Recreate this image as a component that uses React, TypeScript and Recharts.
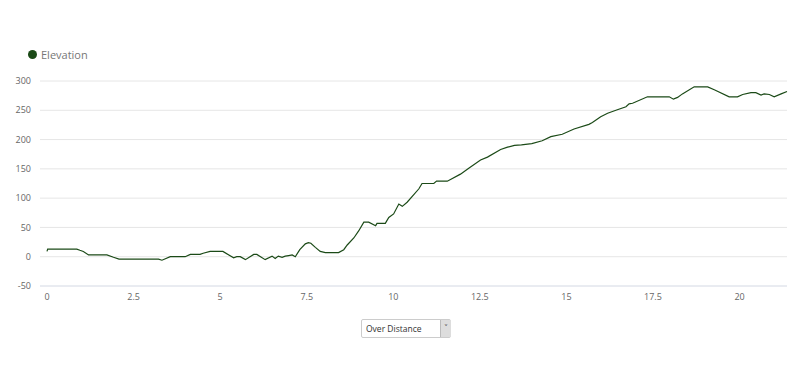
import { LineChart, Line, XAxis, YAxis, CartesianGrid, Legend } from "recharts";

const distance = [
  0, 0.02, 0.86, 0.95, 1.05, 1.2, 1.73, 1.92, 2.08, 3.22, 3.32, 3.56, 3.99, 4.14, 4.42, 4.51, 4.71,
  5.08, 5.39, 5.48, 5.58, 5.73, 5.97, 6.06, 6.3, 6.5, 6.59, 6.68, 6.79, 6.88, 6.98, 7.08, 7.17, 7.3,
  7.46, 7.55, 7.62, 7.75, 7.89, 8.04, 8.42, 8.57, 8.67, 8.86, 9.0, 9.15, 9.29, 9.49, 9.53, 9.77, 9.87,
  10.01, 10.16, 10.26, 10.4, 10.74, 10.83, 11.17, 11.25, 11.56, 11.94, 12.2, 12.52, 12.72, 13.1, 13.3,
  13.5, 13.7, 14.0, 14.3, 14.55, 14.88, 15.22, 15.65, 15.75, 15.99, 16.19, 16.47, 16.72, 16.81, 16.91,
  17.34, 17.97, 18.09, 18.21, 18.35, 18.69, 19.08, 19.27, 19.7, 19.94, 20.09, 20.33, 20.47, 20.62,
  20.71, 20.86, 21.0, 21.2, 21.37,
];

const elevation = [
  9, 13, 13, 11, 9, 3, 3, -1, -4, -4, -6, 0, 0, 4, 4, 6, 9,
  9, -2, 0, 0, -5, 4, 4, -5, 1, -3, 1, -1, 1, 2, 3, 0, 12,
  22, 24, 23, 16, 9, 7, 7, 12, 20, 32, 44, 59, 59, 53, 57, 57, 67,
  73, 90, 86, 93, 116, 125, 125, 129, 129, 141, 152, 165, 170, 183, 187,
  190, 191, 193, 198, 205, 209, 218, 226, 229, 239, 245, 251, 256, 261, 262,
  273, 273, 269, 272, 278, 290, 290, 285, 273, 273, 277, 280, 280, 276,
  278, 277, 273, 278, 282,
];

const xTicks = [0, 2.5, 5, 7.5, 10, 12.5, 15, 17.5, 20];
const yTicks = [-50, 0, 50, 100, 150, 200, 250, 300];

const data = distance.map((d, i) => ({ distance: d, elevation: elevation[i] }));

const font = "'Open Sans', 'DejaVu Sans', sans-serif";

export default function App() {
  return (
    <div
      style={{
        position: "absolute",
        left: 0,
        top: 0,
        width: 800,
        height: 382,
        background: "#fff",
        fontFamily: font,
      }}
    >
      <LineChart
        width={800}
        height={320}
        data={data}
        margin={{ top: 59, right: 13, left: 0, bottom: 0 }}
      >
        <CartesianGrid vertical={false} stroke="#e6e6e6" />
        <XAxis
          type="number"
          dataKey="distance"
          domain={[0, 21.37]}
          ticks={xTicks}
          padding={{ left: 7, right: 0 }}
          height={34}
          tickLine={false}
          tickSize={0}
          tickMargin={8}
          axisLine={{ stroke: "#dfe4ef" }}
          tick={{ fontSize: 9, fill: "#666", fontFamily: font }}
        />
        <YAxis
          type="number"
          domain={[-50, 300]}
          ticks={yTicks}
          width={40}
          axisLine={false}
          tickLine={false}
          tickSize={0}
          tickMargin={9}
          tick={{ fontSize: 9, fill: "#666", fontFamily: font }}
        />
        <Legend
          verticalAlign="top"
          align="left"
          iconType="circle"
          iconSize={9}
          wrapperStyle={{ top: 42, left: 28, width: "auto", fontFamily: font }}
          formatter={(value) => (
            <span style={{ color: "#777", fontSize: 11 }}>{value}</span>
          )}
        />
        <Line
          type="linear"
          dataKey="elevation"
          name="Elevation"
          stroke="#1b4a17"
          strokeWidth={1.2}
          dot={false}
          isAnimationActive={false}
        />
      </LineChart>
      <select
        defaultValue="distance"
        style={{
          position: "absolute",
          left: 361,
          top: 319,
          width: 90,
          height: 19,
          fontSize: 8.5,
          fontFamily: font,
          color: "#333",
          border: "1px solid #ccc",
          borderRadius: 2,
          background: "#fff",
          padding: "0 4px",
          appearance: "none",
          boxSizing: "border-box",
        }}
      >
        <option value="distance">Over Distance</option>
      </select>
      <div
        style={{
          position: "absolute",
          left: 440,
          top: 320,
          width: 10,
          height: 17,
          background: "#ddd",
          borderLeft: "1px solid #bbb",
          color: "#555",
          fontSize: 8,
          lineHeight: "15px",
          textAlign: "center",
          pointerEvents: "none",
        }}
      >
        ˅
      </div>
    </div>
  );
}
